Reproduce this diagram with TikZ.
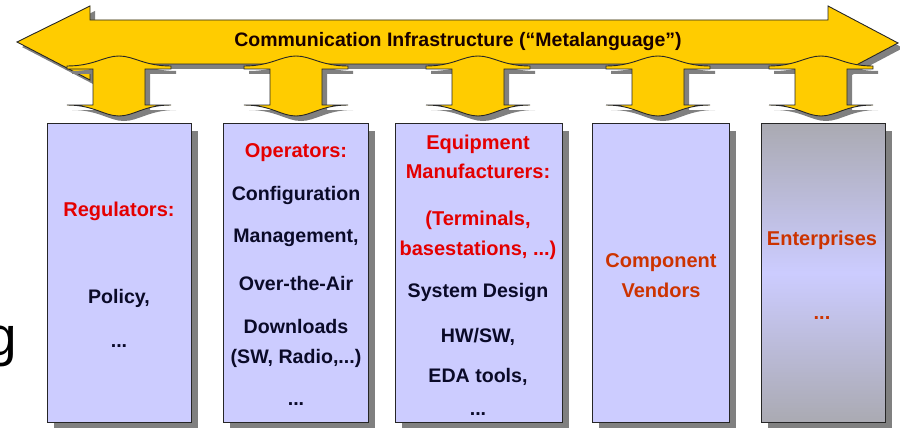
\documentclass[tikz,border=0pt]{standalone}
\usepackage{fontspec}
\setmainfont{Liberation Sans}
\usepackage{tikz}
\usetikzlibrary{shadows}

\definecolor{arrowgold}{RGB}{255,204,0}
\definecolor{lav}{RGB}{204,204,255}
\definecolor{entgray}{RGB}{170,170,178}
\definecolor{headred}{RGB}{228,0,0}
\definecolor{vendred}{RGB}{204,51,0}
\definecolor{bodyink}{RGB}{10,10,40}

\begin{document}
\begin{tikzpicture}[
  x=1pt, y=-1pt,
  every node/.style={align=center},
  shade/.style={drop shadow={shadow xshift=5pt, shadow yshift=-5pt, fill=black!50, opacity=1}},
  arrowshape/.style={draw=black!85, line width=0.9pt, fill=arrowgold, shade},
  panel/.style={draw=black!85, line width=1pt, fill=lav, minimum height=299pt, anchor=north,
    inner sep=0pt, drop shadow={shadow xshift=7pt, shadow yshift=-7pt, fill=black!50, opacity=1}},
  headtxt/.style={font=\bfseries\fontsize{20}{22}\selectfont, text=headred, anchor=base, inner sep=0pt},
  vendtxt/.style={headtxt, text=vendred},
  bodytxt/.style={font=\bfseries\fontsize{19.6}{22}\selectfont, text=bodyink, anchor=base, inner sep=0pt},
  dnarrow/.pic={
    \path[arrowshape] (-52,66) .. controls (-25,66) and (-15,56) .. (0,56)
      .. controls (15,56) and (25,66) .. (52,66) -- (52,69) -- (26,69) -- (26,105) -- (52,105)
      .. controls (25,105) and (15,116) .. (0,116) .. controls (-15,116) and (-25,105) .. (-52,105)
      -- (-26,105) -- (-26,69) -- (-52,69) -- cycle;
  }
]
\useasboundingbox (0,0) rectangle (900,428);
\clip (0,0) rectangle (900,428);

% communication infrastructure
\path[arrowshape] (17,42) -- (90,6) -- (90,20) -- (828,20) -- (828,6) -- (898,43)
  -- (828,80) -- (828,64) -- (90,64) -- (90,80) -- cycle;
\node[font=\bfseries\fontsize{19.5}{22}\selectfont, text=black!90!red] (infra) at (458,42)
  {Communication Infrastructure (``Metalanguage'')};

\pic (a1) at (119,0) {dnarrow};
\pic (a2) at (296,0) {dnarrow};
\pic (a3) at (478,0) {dnarrow};
\pic (a4) at (658,0) {dnarrow};
\pic (a5) at (821,0) {dnarrow};

% stakeholder columns
\node[panel, minimum width=144pt] (reg) at (119,123) {};
\node[panel, minimum width=145pt] (op) at (295.5,123) {};
\node[panel, minimum width=167pt] (eq) at (478.5,123) {};
\node[panel, minimum width=137pt] (comp) at (660.5,123) {};
\node[panel, minimum width=124pt, top color=entgray, bottom color=entgray, middle color=lav] (ent) at (823,123) {};

\node[headtxt] (regh) at (119,216) {Regulators:};
\node[bodytxt] (reg1) at (119,303) {Policy,};
\node[bodytxt] (reg2) at (119,347) {...};

\node[headtxt] (oph) at (296,157) {Operators:};
\node[bodytxt] (op1) at (296,200) {Configuration};
\node[bodytxt] (op2) at (296,242) {Management,};
\node[bodytxt] (op3) at (296,290) {Over-the-Air};
\node[bodytxt] (op4) at (296,333) {Downloads};
\node[bodytxt] (op5) at (296,363) {(SW, Radio,...)};
\node[bodytxt] (op6) at (296,405) {...};

\node[headtxt] (eqh1) at (478,149) {Equipment};
\node[headtxt] (eqh2) at (478,178) {Manufacturers:};
\node[headtxt] (eqh3) at (478,225) {(Terminals,};
\node[headtxt] (eqh4) at (478,255) {basestations, ...)};
\node[bodytxt] (eq1) at (478,297) {System Design};
\node[bodytxt] (eq2) at (478,342) {HW/SW,};
\node[bodytxt] (eq3) at (478,382) {EDA tools,};
\node[bodytxt] (eq4) at (478,415) {...};

\node[vendtxt] (comph1) at (661,267) {Component};
\node[vendtxt] (comph2) at (661,297) {Vendors};

\node[vendtxt] (enth) at (822,245) {Enterprises};
\node[vendtxt] (ent1) at (822,319) {...};

% word fragment at the left edge
\node[font=\fontsize{55}{55}\selectfont, anchor=base east, inner sep=0pt] (frag) at (17,355) {g};
\end{tikzpicture}
\end{document}
